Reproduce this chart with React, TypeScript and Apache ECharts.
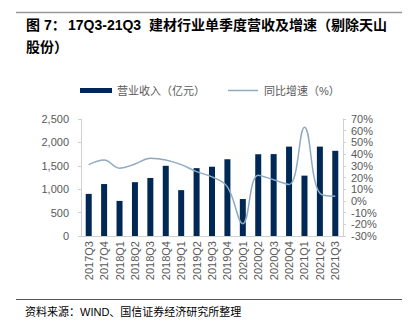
import React, { useEffect, useRef } from "react";
import * as echarts from "echarts";

const categories = [
  "2017Q3", "2017Q4", "2018Q1", "2018Q2", "2018Q3", "2018Q4", "2019Q1", "2019Q2", "2019Q3",
  "2019Q4", "2020Q1", "2020Q2", "2020Q3", "2020Q4", "2021Q1", "2021Q2", "2021Q3",
];
const revenue = [900, 1110, 750, 1150, 1240, 1500, 980, 1450, 1480, 1640, 790, 1745, 1750, 1910, 1290, 1910, 1820];
const growth = [31, 35, 28, 31.5, 36.5, 35, 31, 25, 20.5, 12, -19.5, 22, 18, 14, 63, 6.5, 4];
const barName = "营业收入（亿元）";
const lineName = "同比增速（%）";
const titlePrefix = "图 7：";
const titleCode = "17Q3-21Q3";
const titleRest = "建材行业单季度营收及增速（剔除天山";
const titleLine2 = "股份）";
const sourceText = "资料来源：WIND、国信证券经济研究所整理";

const FONT = "'Liberation Sans', Arial, 'Noto Sans CJK SC', sans-serif";
const GRAY = "#595959";
const AXIS = "#d0d0d0";

export default function App() {
  const ref = useRef<HTMLDivElement>(null);
  useEffect(() => {
    if (!ref.current) return;
    const chart = echarts.init(ref.current, undefined, { renderer: "svg" });
    const tFont = `bold 14px ${FONT}`;
    chart.setOption({
      animation: false,
      textStyle: { fontFamily: FONT },
      graphic: [
        { type: "line", shape: { x1: 16, y1: 12.5, x2: 402, y2: 12.5 }, style: { stroke: "#999999", lineWidth: 1.5 } },
        { type: "text", x: 26, y: 25, style: { text: titlePrefix, font: tFont, fill: "#000", textVerticalAlign: "middle" } },
        { type: "text", x: 68, y: 25, style: { text: titleCode, font: tFont, fill: "#000", textVerticalAlign: "middle" } },
        { type: "text", x: 149, y: 25, style: { text: titleRest, font: tFont, fill: "#000", textVerticalAlign: "middle" } },
        { type: "text", x: 26, y: 47, style: { text: titleLine2, font: tFont, fill: "#000", textVerticalAlign: "middle" } },
        { type: "line", shape: { x1: 16, y1: 299.5, x2: 402, y2: 299.5 }, style: { stroke: "#555555", lineWidth: 1 } },
        { type: "text", x: 25, y: 312, style: { text: sourceText, font: `11px ${FONT}`, fill: "#000", textVerticalAlign: "middle" } },
      ],
      legend: {
        left: 80,
        top: 85,
        padding: 0,
        itemWidth: 32,
        itemHeight: 5,
        itemGap: 23,
        textStyle: { color: GRAY, fontSize: 11, fontFamily: FONT },
        data: [
          { name: barName, icon: "rect" },
          { name: lineName, icon: "path://M0,0 L30,0 Z M0,1.75 L30,1.75 L30,3.25 L0,3.25 Z M0,5 L30,5 Z" },
        ],
      },
      grid: { left: 81, right: 65, top: 119, bottom: 98 },
      xAxis: {
        type: "category",
        data: categories,
        axisLine: { lineStyle: { color: AXIS } },
        axisTick: { lineStyle: { color: AXIS }, length: 4 },
        axisLabel: { rotate: 90, color: GRAY, fontSize: 11, margin: 5, interval: 0 },
      },
      yAxis: [
        {
          type: "value",
          min: 0,
          max: 2500,
          interval: 500,
          splitLine: { show: false },
          axisLine: { show: true, lineStyle: { color: AXIS } },
          axisTick: { show: true, lineStyle: { color: AXIS }, length: 3 },
          axisLabel: {
            color: GRAY,
            fontSize: 11,
            margin: 12,
            showMinLabel: true,
            showMaxLabel: true,
            formatter: (v: number) => v.toLocaleString("en-US"),
          },
        },
        {
          type: "value",
          min: -30,
          max: 70,
          interval: 10,
          splitLine: { show: false },
          axisLine: { show: true, lineStyle: { color: AXIS } },
          axisTick: { show: true, lineStyle: { color: AXIS }, length: 3 },
          axisLabel: {
            color: GRAY,
            fontSize: 11,
            margin: 8,
            showMinLabel: true,
            showMaxLabel: true,
            hideOverlap: false,
            formatter: "{value}%",
          },
        },
      ],
      series: [
        {
          name: barName,
          type: "bar",
          data: revenue,
          barWidth: 6,
          itemStyle: { color: "#002855" },
        },
        {
          name: lineName,
          type: "line",
          yAxisIndex: 1,
          data: growth,
          smooth: 0.4,
          symbol: "none",
          lineStyle: { color: "#8eaac3", width: 1.5 },
          itemStyle: { color: "#8eaac3" },
        },
      ],
    });
    return () => chart.dispose();
  }, []);
  return <div ref={ref} style={{ position: "absolute", left: 0, top: 0, width: 408, height: 334 }} />;
}
